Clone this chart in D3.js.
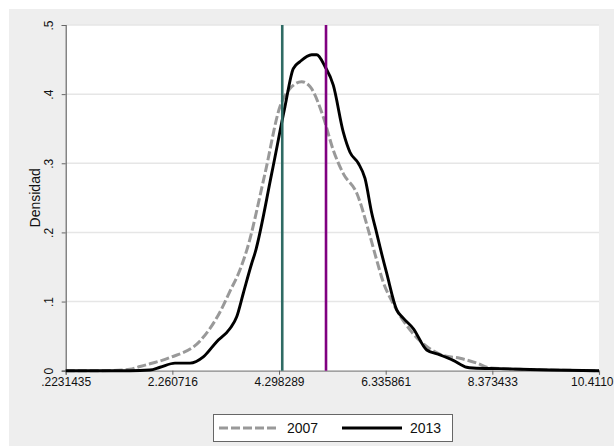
<!DOCTYPE html>
<html><head><meta charset="utf-8">
<script src="https://cdn.jsdelivr.net/npm/d3@7"></script>
<style>html,body{margin:0;padding:0;background:#fff;overflow:hidden}svg{display:block}text{font-family:"Liberation Sans",Arial,sans-serif}</style>
</head><body><svg id="c" width="614" height="446"></svg>
<script>
const xTickValues = [0.2231435, 2.260716, 4.298289, 6.335861, 8.373433, 10.41101];
const xTickLabels = [".2231435", "2.260716", "4.298289", "6.335861", "8.373433", "10.4110"];
const yTickValues = [0, 0.1, 0.2, 0.3, 0.4, 0.5];
const yTickLabels = ["0", ".1", ".2", ".3", ".4", ".5"];
const seriesNames = ["2007", "2013"];
const x2007 = [0.223,0.878,1.451,1.642,1.833,2.216,2.789,3.171,3.362,3.553,3.681,4.030,4.317,4.508,4.731,4.890,5.144,5.335,5.526,5.782,6.036,6.164,6.290,6.481,6.800,7.119,7.436,7.755,8.074,8.328,8.905,9.478,10.411];
const d2007 = [0,0,0.002,0.006,0.010,0.019,0.043,0.085,0.115,0.146,0.174,0.285,0.382,0.408,0.418,0.411,0.367,0.319,0.285,0.257,0.195,0.160,0.128,0.097,0.059,0.035,0.022,0.018,0.011,0.004,0.002,0.001,0];
const x2013 = [0.223,1.451,1.833,2.025,2.311,2.598,2.852,3.108,3.362,3.490,3.616,3.776,3.839,4.158,4.412,4.571,4.699,4.922,5.018,5.176,5.335,5.526,5.654,5.813,5.941,6.069,6.164,6.227,6.355,6.546,6.672,6.863,7.119,7.373,7.627,7.883,8.003,8.519,9.478,10.411];
const d2013 = [0,0,0.001,0.005,0.011,0.011,0.020,0.042,0.061,0.078,0.112,0.155,0.170,0.285,0.382,0.437,0.447,0.457,0.457,0.440,0.413,0.345,0.316,0.300,0.278,0.228,0.199,0.179,0.141,0.088,0.076,0.061,0.030,0.023,0.015,0.005,0.004,0.003,0.001,0];
const vLines = [4.36, 5.196];
const vColors = ["#2f6b64", "#800080"];

const svg = d3.select("#c");
svg.append("rect").attr("x",9).attr("y",9).attr("width",605).attr("height",437).attr("fill","#eeeeee");
const L=65.7,R=599,T=25,B=370.7;
const x = d3.scaleLinear().domain([xTickValues[0], xTickValues[5]]).range([L,R]);
const y = d3.scaleLinear().domain([0,0.5]).range([B,T]);
svg.append("rect").attr("x",L).attr("y",T).attr("width",R-L).attr("height",B-T).attr("fill","#fff");
// gridlines
svg.append("g").selectAll("line").data(yTickValues.slice(1)).join("line")
  .attr("x1",L).attr("x2",R).attr("y1",d=>y(d)).attr("y2",d=>y(d))
  .attr("stroke","#e6e6e6").attr("stroke-width",1.5);
// y axis
const ya = svg.append("g").attr("transform",`translate(${L},0)`)
  .call(d3.axisLeft(y).tickValues(yTickValues).tickSize(4).tickFormat((d,i)=>yTickLabels[i]));
ya.select(".domain").attr("stroke","#666").attr("stroke-width",1.2);
ya.selectAll(".tick line").attr("stroke","#666");
ya.selectAll(".tick text").attr("transform","translate(-12.5,0) rotate(-90)").attr("x",0).attr("y",0)
  .attr("dy",0).attr("text-anchor","middle").attr("font-size",12).attr("fill","#111")
  .attr("font-family","Liberation Sans, Arial, sans-serif");
// x axis
const xa = svg.append("g").attr("transform",`translate(0,${B})`)
  .call(d3.axisBottom(x).tickValues(xTickValues).tickSize(4).tickFormat((d,i)=>xTickLabels[i]));
xa.select(".domain").attr("stroke","#888").attr("stroke-width",1.2);
xa.selectAll(".tick line").attr("stroke","#666");
xa.selectAll(".tick text").attr("font-size",12).attr("fill","#111").attr("y",7).attr("dy","0.71em")
  .attr("font-family","Liberation Sans, Arial, sans-serif");
xa.selectAll(".tick text").filter((d,i)=>i===xTickValues.length-1).attr("text-anchor","end").attr("x",14);
// y label
svg.append("text").attr("transform",`translate(40,${(T+B)/2}) rotate(-90)`).attr("text-anchor","middle")
  .attr("font-size",14).attr("fill","#111").text("Densidad");
// curves
const line = d3.line().x(d=>x(d[0])).y(d=>y(d[1])).curve(d3.curveMonotoneX);
svg.append("path").datum(x2007.map((v,i)=>[v,d2007[i]])).attr("d",line).attr("fill","none")
  .attr("stroke","#999").attr("stroke-width",3).attr("stroke-dasharray","9,3");
svg.append("path").datum(x2013.map((v,i)=>[v,d2013[i]])).attr("d",line).attr("fill","none")
  .attr("stroke","#000").attr("stroke-width",2.9).attr("stroke-linejoin","round");
// vertical lines
svg.append("g").selectAll("line").data(vLines).join("line")
  .attr("x1",d=>x(d)).attr("x2",d=>x(d)).attr("y1",T).attr("y2",B)
  .attr("stroke",(d,i)=>vColors[i]).attr("stroke-width",2.6);
// legend
const lg = svg.append("g");
lg.append("rect").attr("x",213.5).attr("y",414.5).attr("width",239).attr("height",27).attr("fill","#fff").attr("stroke","#666").attr("stroke-width",1);
lg.append("line").attr("x1",219).attr("x2",279).attr("y1",428).attr("y2",428).attr("stroke","#999").attr("stroke-width",3).attr("stroke-dasharray","9,3");
lg.append("text").attr("x",287).attr("y",433).attr("font-size",14).attr("fill","#111").text(seriesNames[0]);
lg.append("line").attr("x1",342).attr("x2",402).attr("y1",428).attr("y2",428).attr("stroke","#000").attr("stroke-width",3);
lg.append("text").attr("x",410).attr("y",433).attr("font-size",14).attr("fill","#111").text(seriesNames[1]);
</script></body></html>
